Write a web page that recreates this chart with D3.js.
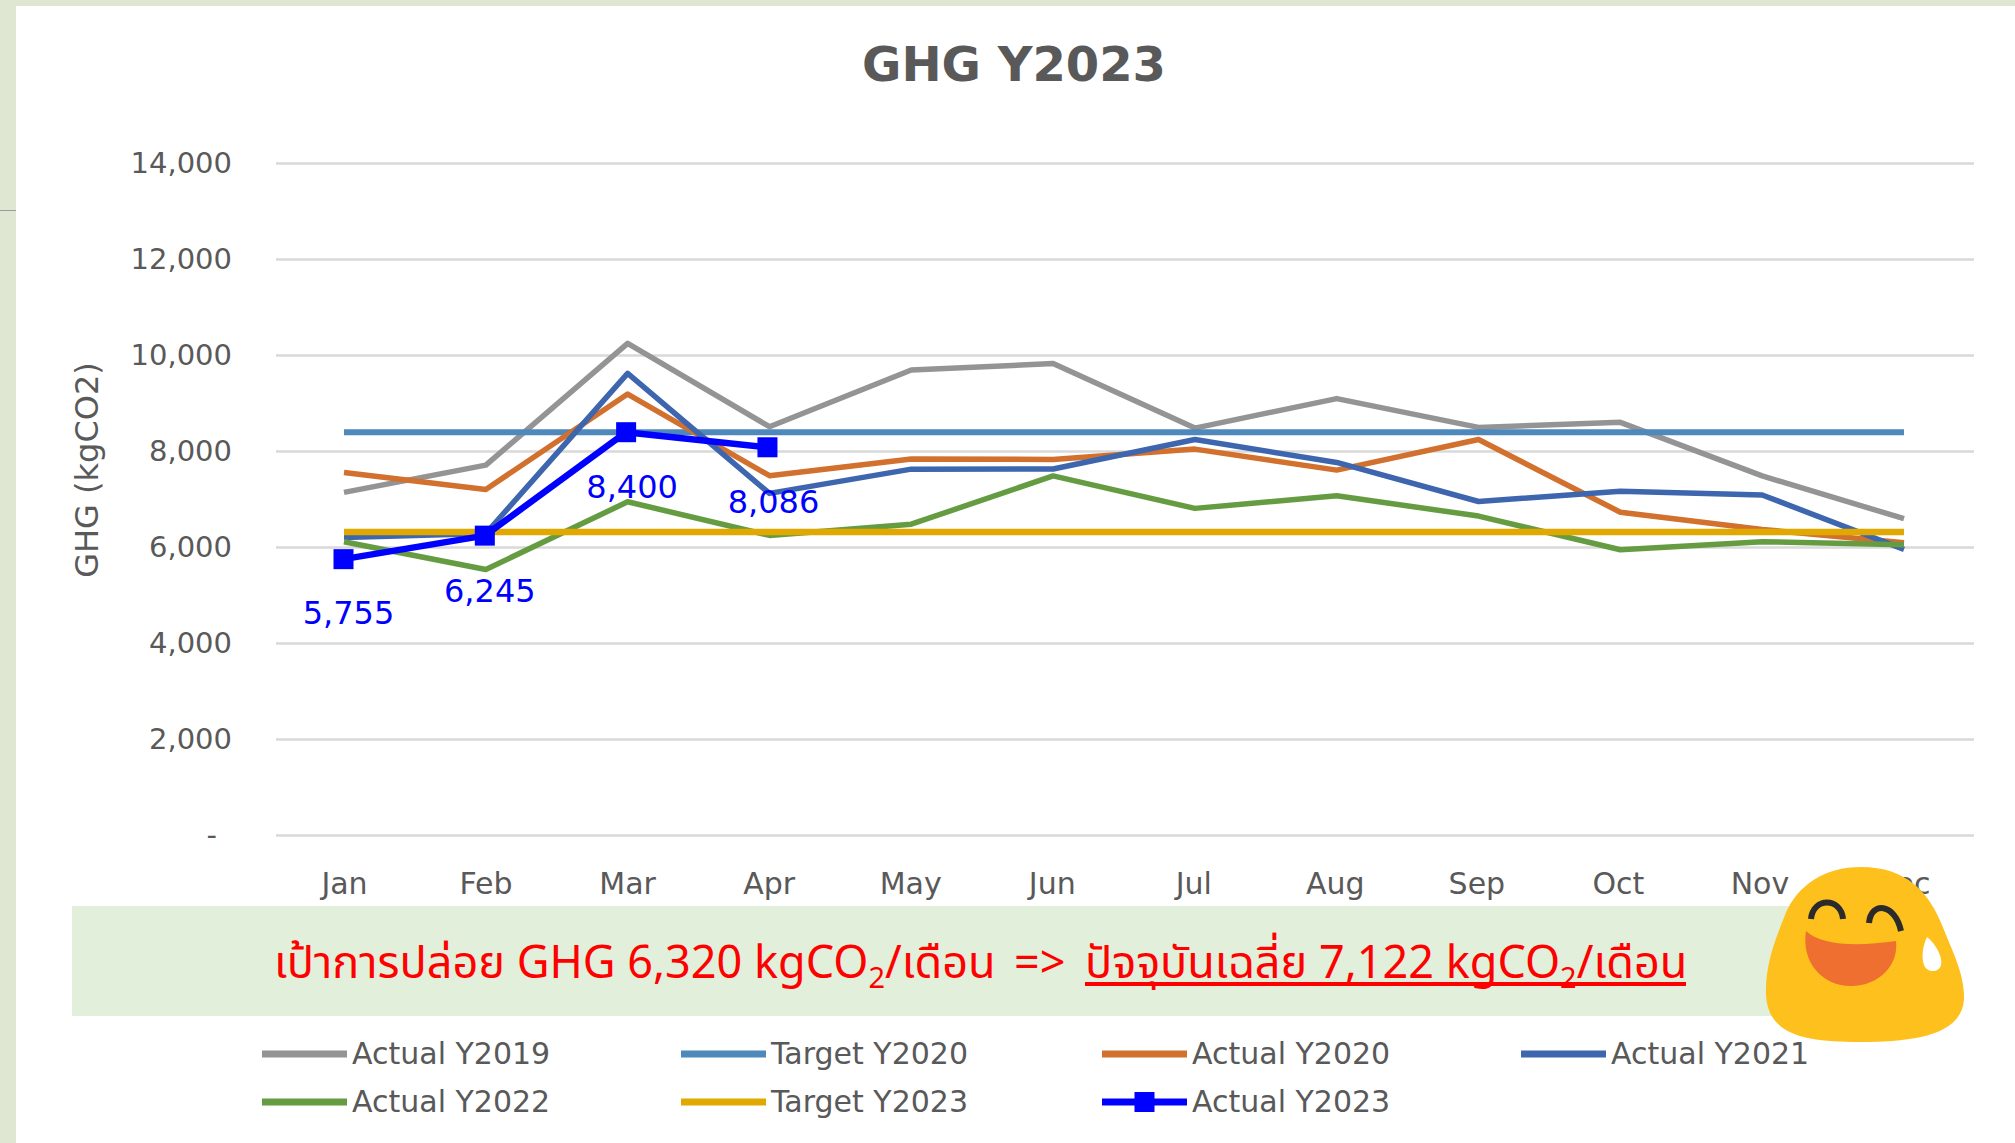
<!DOCTYPE html>
<html><head><meta charset="utf-8">
<script src="https://cdn.jsdelivr.net/npm/d3@7"></script>
<style>
html,body{margin:0;padding:0;background:#fff;overflow:hidden}
svg{display:block}
text{font-family:"DejaVu Sans",sans-serif}
</style></head><body>
<svg id="c" width="2015" height="1143"></svg>
<script>
const months=["Jan","Feb","Mar","Apr","May","Jun","Jul","Aug","Sep","Oct","Nov","Dec"];
const yTicks=[0,2000,4000,6000,8000,10000,12000,14000];
const actual2019=[7146,7715,10250,8514,9696,9830,8486,9100,8500,8605,7490,6598];
const target2020=[8400,8400,8400,8400,8400,8400,8400,8400,8400,8400,8400,8400];
const actual2020=[7560,7208,9194,7493,7840,7833,8048,7610,8247,6733,6375,6096];
const actual2021=[6208,6290,9625,7125,7630,7633,8247,7770,6956,7171,7092,5960];
const actual2022=[6118,5540,6950,6250,6483,7490,6813,7076,6653,5950,6120,6056];
const target2023=[6320,6320,6320,6320,6320,6320,6320,6320,6320,6320,6320,6320];
const actual2023=[5755,6245,8400,8086];
const names=["Actual Y2019","Target Y2020","Actual Y2020","Actual Y2021","Actual Y2022","Target Y2023","Actual Y2023"];
const colors=["#949494","#4f88bb","#d2702e","#3d66ae","#659c41","#e0a800","#0000ff"];
const seriesValues=[actual2019,target2020,actual2020,actual2021,actual2022,target2023,actual2023];
const widths=[5.5,6,5.5,5.5,5.5,6.5,6.5];

const svg=d3.select("#c");
const GREY="#595959";
// page furniture
svg.append("rect").attr("x",0).attr("y",0).attr("width",2015).attr("height",6).attr("fill","#dfe7d2");
svg.append("rect").attr("x",0).attr("y",0).attr("width",16).attr("height",1143).attr("fill","#dfe7d2");
svg.append("rect").attr("x",0).attr("y",210).attr("width",16).attr("height",1).attr("fill","#9a9a9a");

const x=d3.scalePoint().domain(months).range([344,1904]);
const xLabel=d3.scalePoint().domain(months).range([344,1901]);
const x23=d3.scalePoint().domain(months).range([343.5,1898]);
const y=d3.scaleLinear().domain([0,14000]).range([835.4,163.4]);

// grid
svg.append("g").selectAll("line").data(yTicks).join("line")
 .attr("x1",276).attr("x2",1974).attr("y1",d=>y(d)).attr("y2",d=>y(d))
 .attr("stroke","#d9d9d9").attr("stroke-width",2.5);

// axes labels
const yAxis=d3.axisLeft(y).tickValues(yTicks).tickSize(0).tickPadding(0)
 .tickFormat(d=>d===0?"-":d3.format(",")(d));
const gy=svg.append("g").attr("transform","translate(232,0)").call(yAxis);
gy.select(".domain").remove();
gy.selectAll("text").attr("fill",GREY).style("font-size","29px").attr("dy","0.33em")
  .attr("dx",d=>d===0?-15:0);

const xAxis=d3.axisBottom(xLabel).tickSize(0).tickPadding(0);
const gx=svg.append("g").attr("transform","translate(0,870)").call(xAxis);
gx.select(".domain").remove();
gx.selectAll("text").attr("fill",GREY).style("font-size","30px").attr("dy","0.8em");

svg.append("text").attr("transform","translate(98,470) rotate(-90)").attr("text-anchor","middle")
 .attr("fill",GREY).style("font-size","32px").text("GHG (kgCO2)");

svg.append("text").attr("x",1014).attr("y",81).attr("text-anchor","middle")
 .attr("fill",GREY).style("font-size","48px").style("font-weight","700").text("GHG Y2023");

// banner
svg.append("rect").attr("x",72).attr("y",906).attr("width",1790).attr("height",110).attr("fill","#e2efda");

// lines
const gl=svg.append("g");
seriesValues.forEach((vals,i)=>{
  const sx=i===6?x23:x;
  const line=d3.line().x((d,j)=>sx(months[j])).y(d=>y(d));
  gl.append("path").attr("d",line(vals)).attr("fill","none")
    .attr("stroke",colors[i]).attr("stroke-width",widths[i]).attr("stroke-linejoin","round");
});
gl.selectAll("rect.m").data(actual2023).join("rect").attr("class","m")
  .attr("x",(d,j)=>x23(months[j])-10).attr("y",d=>y(d)-10).attr("width",20).attr("height",20).attr("fill","#0000ff");

// data labels
const labelDx=[5,5,6,6], labelDy=[54,55,55,55];
svg.append("g").selectAll("text").data(actual2023).join("text")
  .attr("x",(d,j)=>x23(months[j])+labelDx[j]).attr("y",(d,j)=>y(d)+labelDy[j]).attr("dy","0.35em")
  .attr("text-anchor","middle").attr("fill","#0000ff").style("font-size","32px")
  .text(d=>d3.format(",")(d));

// banner text
const th='"Noto Sans Thai","Noto Sans Thai Looped","Loma","Garuda","Norasi","Waree","DejaVu Sans",sans-serif';
function co2(t){
  t.append("tspan").text("kgCO");
  t.append("tspan").attr("dy",10).style("font-size","29px").text("2");
  t.append("tspan").attr("dy",-10).text("/เดือน");
}
const t1=svg.append("text").attr("x",274).attr("y",978).attr("fill","#ff0000").style("font-size","45px").style("font-family",th);
t1.append("tspan").text("เป้าการปล่อย GHG 6,320 ");co2(t1);
svg.append("text").attr("x",1014).attr("y",978).attr("fill","#ff0000").style("font-size","45px").style("font-family",th).text("=>");
const t2=svg.append("text").attr("x",1085).attr("y",978).attr("fill","#ff0000").style("font-size","45px").style("font-family",th);
t2.append("tspan").text("ปัจจุบันเฉลี่ย 7,122 ");co2(t2);
svg.append("rect").attr("x",1085).attr("y",982).attr("width",601).attr("height",4).attr("fill","#ff0000");

// legend
const legX=[262,681,1102,1521], legY=[1054,1102];
const lg=svg.append("g").selectAll("g").data(names).join("g")
  .attr("transform",(d,i)=>`translate(${legX[i%4]},${legY[Math.floor(i/4)]})`);
lg.append("line").attr("x1",0).attr("x2",85).attr("stroke",(d,i)=>colors[i]).attr("stroke-width",7);
lg.append("text").attr("x",90).attr("dy","0.33em").attr("fill",GREY).style("font-size","30px").text(d=>d);
lg.filter((d,i)=>i===6).append("rect").attr("x",32.5).attr("y",-10).attr("width",20).attr("height",20).attr("fill","#0000ff");

// emoji decoration
const e=svg.append("g").attr("transform","translate(1865,955)");
e.append("path").attr("d","M-4,-88 C42,-88 64,-62 77,-30 C88,-2 100,20 99,45 C96,80 50,87 -5,87 C-60,87 -97,80 -99,40 C-100,10 -90,-15 -80,-40 C-68,-70 -40,-88 -4,-88 Z").attr("fill","#fdc01c");
e.append("path").attr("d","M-54,-36 C-52,-58 -24,-58 -22,-36").attr("fill","none").attr("stroke","#2b2b2b").attr("stroke-width",6);
e.append("path").attr("d","M4,-32 C6,-54 30,-52 36,-24").attr("fill","none").attr("stroke","#2b2b2b").attr("stroke-width",6);
e.append("path").attr("d","M-59,-24 C-44,-10 -10,-8 31,-14 C34,10 14,31 -14,31 C-42,31 -64,8 -59,-24 Z").attr("fill","#ee6f2f");
e.append("path").attr("d","M62,-18 C70,-12 78,2 76,10 C74,18 62,18 59,10 C56,2 58,-10 62,-18 Z").attr("fill","#fff");
</script>
</body></html>
